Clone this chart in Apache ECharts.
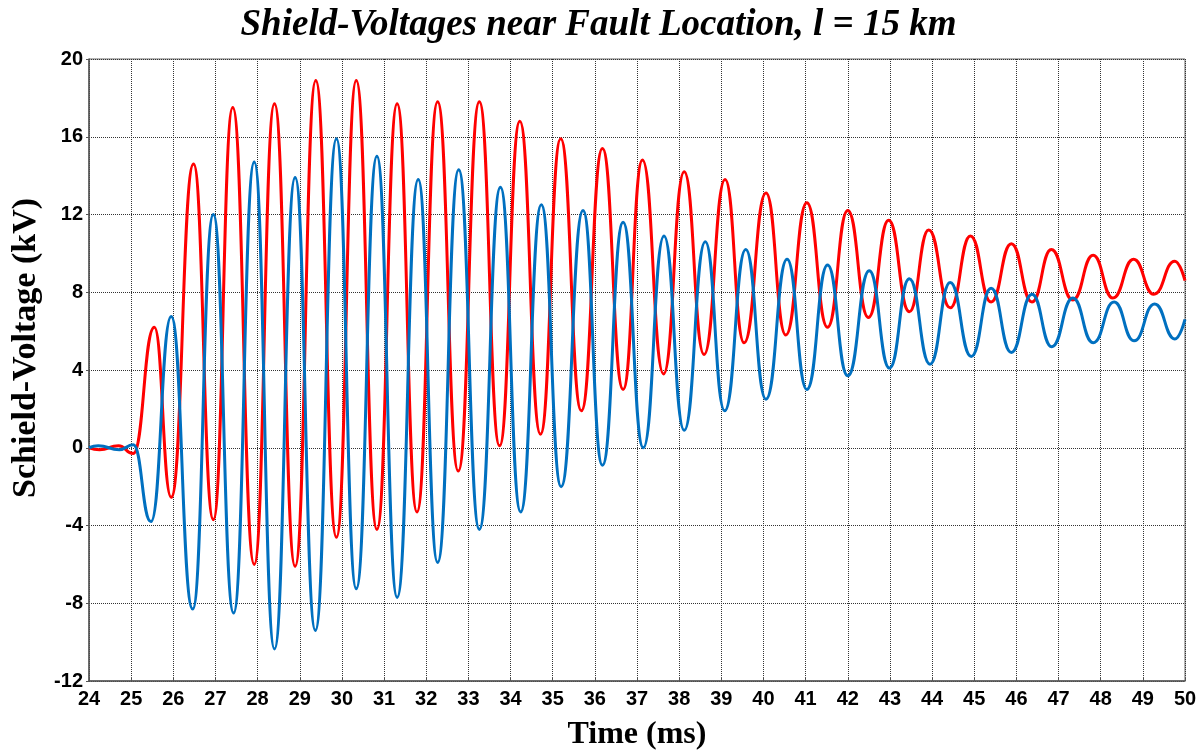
<!DOCTYPE html>
<html>
<head>
    <meta charset="UTF-8"/>
    <script type="text/javascript" src="https://cdn.jsdelivr.net/npm/echarts@6/dist/echarts.min.js"></script>
    <title>Shield-Voltages</title>
    <style>
        html, body { margin: 0; padding: 0; background: #fff; }
        #chart { width: 1197px; height: 754px; }
    </style>
</head>
<body>
<div id="chart"></div>

<script type="application/javascript">
    // extrema (time in ms, voltage in kV)
    var redTime = [24.0, 24.25, 24.7, 25.05, 25.55, 25.95, 26.48, 26.95, 27.41, 27.92, 28.40, 28.89, 29.38, 29.87,
        30.34, 30.83, 31.31, 31.78, 32.27, 32.76, 33.26, 33.74, 34.22, 34.71, 35.19, 35.68, 36.18, 36.67,
        37.13, 37.63, 38.12, 38.59, 39.09, 39.54, 40.06, 40.53, 41.03, 41.52, 42.0, 42.49, 42.97, 43.46,
        43.92, 44.43, 44.91, 45.40, 45.88, 46.37, 46.83, 47.34, 47.82, 48.29, 48.78, 49.26, 49.76, 50.0];
    var redVolt = [0.0, -0.1, 0.1, -0.3, 6.2, -2.55, 14.6, -3.7, 17.5, -6.0, 17.7, -6.1, 18.9, -4.6,
        18.9, -4.2, 17.7, -3.3, 17.8, -1.2, 17.8, 0.1, 16.8, 0.7, 15.9, 1.9, 15.4, 3.0,
        14.8, 3.8, 14.2, 4.8, 13.8, 5.4, 13.1, 5.8, 12.6, 6.2, 12.2, 6.7, 11.7, 7.0,
        11.2, 7.2, 10.9, 7.5, 10.5, 7.5, 10.2, 7.6, 9.9, 7.7, 9.7, 7.9, 9.6, 8.6];

    var blueTime = [24.0, 24.22, 24.72, 25.05, 25.47, 25.95, 26.46, 26.95, 27.43, 27.92, 28.40, 28.89, 29.37, 29.87,
        30.34, 30.83, 31.31, 31.81, 32.27, 32.77, 33.26, 33.76, 34.24, 34.73, 35.20, 35.72, 36.18, 36.67,
        37.15, 37.64, 38.12, 38.62, 39.08, 39.58, 40.06, 40.56, 41.03, 41.52, 42.0, 42.51, 42.99, 43.46,
        43.95, 44.43, 44.93, 45.40, 45.88, 46.37, 46.84, 47.34, 47.82, 48.32, 48.79, 49.28, 49.76, 50.0];
    var blueVolt = [0.0, 0.1, -0.1, 0.15, -3.8, 6.75, -8.3, 12.0, -8.5, 14.7, -10.35, 13.9, -9.4, 15.9,
        -7.25, 15.0, -7.7, 13.8, -5.9, 14.3, -4.2, 13.4, -3.3, 12.5, -2.0, 12.2, -0.9, 11.6,
        0.0, 10.9, 0.9, 10.6, 1.9, 10.2, 2.5, 9.7, 3.0, 9.4, 3.7, 9.1, 4.1, 8.7,
        4.3, 8.5, 4.7, 8.2, 4.9, 7.9, 5.2, 7.7, 5.4, 7.5, 5.5, 7.4, 5.6, 6.6];

    var yTicks = [-12, -8, -4, 0, 4, 8, 12, 16, 20];

    function toPairs(xs, ys) {
        var out = [];
        for (var i = 0; i < xs.length; i++) {
            out.push([xs[i], ys[i]]);
        }
        return out;
    }

    var myChart = echarts.init(document.getElementById('chart'));
    var option = {
        backgroundColor: '#ffffff',
        animation: false,
        title: {
            text: 'Shield-Voltages near Fault Location, l = 15 km',
            left: 'center',
            top: 2,
            textStyle: {
                fontFamily: 'Liberation Serif',
                fontStyle: 'italic',
                fontWeight: 'bold',
                fontSize: 37,
                color: '#000'
            }
        },
        grid: {
            left: 89,
            right: 12,
            top: 59,
            bottom: 73,
            outerBoundsMode: 'none',
            show: true,
            borderColor: '#666',
            borderWidth: 1
        },
        xAxis: {
            type: 'value',
            min: 24,
            max: 50,
            interval: 1,
            name: 'Time (ms)',
            nameLocation: 'middle',
            nameGap: 38,
            nameTextStyle: {
                fontFamily: 'Liberation Serif',
                fontWeight: 'bold',
                fontSize: 32,
                color: '#000'
            },
            axisLine: { onZero: false, lineStyle: { color: '#555', width: 1.5 } },
            axisTick: { inside: true, length: 4, lineStyle: { color: '#555' } },
            axisLabel: {
                margin: 8,
                fontFamily: 'Liberation Sans',
                fontWeight: 'bold',
                fontSize: 20,
                color: '#000'
            },
            splitLine: { lineStyle: { type: 'dotted', color: '#333', width: 1 } }
        },
        yAxis: {
            type: 'value',
            min: yTicks[0],
            max: yTicks[yTicks.length - 1],
            interval: 4,
            name: 'Schield-Voltage (kV)',
            nameLocation: 'middle',
            nameGap: 46,
            nameTextStyle: {
                fontFamily: 'Liberation Serif',
                fontWeight: 'bold',
                fontSize: 34,
                color: '#000',
                padding: [0, 0, 0, 44]
            },
            axisLine: { show: true, onZero: false, lineStyle: { color: '#555', width: 1.5 } },
            axisTick: { show: true, length: 3, lineStyle: { color: '#555' } },
            axisLabel: {
                margin: 6,
                fontFamily: 'Liberation Sans',
                fontWeight: 'bold',
                fontSize: 20,
                color: '#000'
            },
            splitLine: { lineStyle: { type: 'dotted', color: '#333', width: 1 } }
        },
        series: [
            {
                name: 'red',
                type: 'line',
                data: toPairs(redTime, redVolt),
                smooth: 0.5,
                smoothMonotone: 'x',
                showSymbol: false,
                lineStyle: { color: '#ff0000', width: 3 }
            },
            {
                name: 'blue',
                type: 'line',
                data: toPairs(blueTime, blueVolt),
                smooth: 0.5,
                smoothMonotone: 'x',
                showSymbol: false,
                lineStyle: { color: '#0070c0', width: 3 }
            }
        ]
    };
    myChart.setOption(option);
</script>
</body>
</html>
